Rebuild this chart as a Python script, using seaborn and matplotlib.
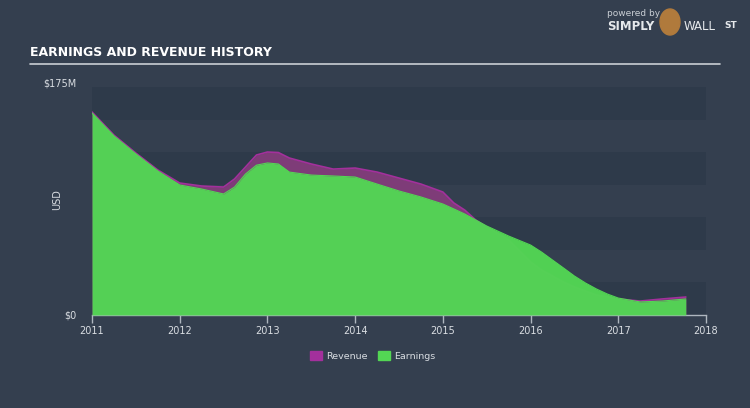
import matplotlib
matplotlib.use("Agg")
import matplotlib.pyplot as plt
import matplotlib.patches as mpatches
from matplotlib.transforms import ScaledTranslation
import seaborn as sns
import pandas as pd

# ---- data ($M) ----
years = [2011.00, 2011.25, 2011.50, 2011.75, 2012.00, 2012.25, 2012.50, 2012.625,
         2012.75, 2012.875, 2013.00, 2013.125, 2013.25, 2013.50, 2013.75, 2014.00,
         2014.25, 2014.50, 2014.75, 2015.00, 2015.125, 2015.25, 2015.375, 2015.50,
         2015.75, 2016.00, 2016.125, 2016.25, 2016.375, 2016.50, 2016.625, 2016.75,
         2016.875, 2017.00, 2017.25, 2017.50, 2017.77]
revenue = [155.8, 138.1, 124.3, 111.3, 101.3, 99.0, 98.2, 104.4,
           113.6, 122.8, 125.1, 124.7, 120.5, 115.9, 112.0, 112.8,
           109.7, 105.1, 100.5, 94.4, 86.0, 80.5, 72.9, 67.5,
           57.6, 40.7, 34.5, 29.9, 25.3, 21.5, 18.4, 15.3,
           13.8, 12.3, 10.7, 12.3, 13.8]
earnings = [155.0, 137.4, 123.6, 110.5, 99.8, 96.7, 92.9, 98.2,
            108.2, 115.0, 116.7, 115.9, 109.7, 107.4, 106.7, 105.9,
            100.5, 95.2, 90.6, 85.2, 81.4, 77.5, 72.9, 68.3,
            60.6, 53.7, 48.3, 42.2, 36.1, 29.9, 24.6, 20.0,
            16.1, 13.0, 10.0, 10.7, 12.3]
x_ticks = [2011, 2012, 2013, 2014, 2015, 2016, 2017, 2018]
y_ticks = [0, 175]
y_tick_labels = ["$0", "$175M"]
series_names = ["Revenue", "Earnings"]

BG = "#343f4f"
DARK_BAND = "#2e3a4a"
GREEN = "#53d654"
MAGENTA = "#a3309c"
REV_FILL = "#7e3c78"
TXT = "#d9dde2"

df = pd.DataFrame({"year": years, "Revenue": revenue, "Earnings": earnings})

sns.set_theme(style="dark")
plt.rcParams["font.family"] = ["DejaVu Sans"]

fig = plt.figure(figsize=(7.5, 4.08), dpi=100, facecolor=BG)
ax = fig.add_axes([92 / 750, 1 - 315 / 408, (706 - 92) / 750, (315 - 87) / 408])
ax.set_facecolor(BG)

# horizontal bands (25M each)
for i in range(7):
    if i % 2 == 0:
        ax.axhspan(175 - 25 * (i + 1), 175 - 25 * i, color=DARK_BAND, lw=0, zorder=0)

ax.fill_between(df["year"], 0, df["Revenue"], color=REV_FILL, lw=0, zorder=1)
sns.lineplot(data=df, x="year", y="Revenue", color=MAGENTA, lw=1.2, ax=ax, zorder=2)
ax.fill_between(df["year"], 0, df["Earnings"], color=GREEN, alpha=0.97, lw=0, zorder=3)
sns.lineplot(data=df, x="year", y="Earnings", color=GREEN, lw=0.8, ax=ax, zorder=4)

ax.set_xlim(2011, 2018)
ax.set_ylim(0, 175)
ax.set_xlabel("")
ax.set_ylabel("")
ax.set_xticks(x_ticks)
ax.set_xticklabels([str(t) for t in x_ticks], color=TXT, fontsize=7)
ax.set_yticks(y_ticks)
ax.set_yticklabels(y_tick_labels, color=TXT, fontsize=7)
ax.tick_params(axis="x", length=6, width=1, color="#aeb6bf", pad=2, direction="out", bottom=True)
ax.tick_params(axis="y", length=0, pad=11)
for lab in ax.get_yticklabels():
    lab.set_verticalalignment("center")
top_lab = ax.get_yticklabels()[1]
top_lab.set_transform(top_lab.get_transform() + ScaledTranslation(0, 3 / 100, fig.dpi_scale_trans))
for s in ["top", "right", "left"]:
    ax.spines[s].set_visible(False)
ax.spines["bottom"].set_color("#aeb6bf")
ax.spines["bottom"].set_linewidth(1)
ax.grid(False)

fig.text(57 / 750, 1 - 200 / 408, "USD", rotation=90, color=TXT, fontsize=7,
         ha="center", va="center")

# title + rule
fig.text(30 / 750, 1 - 53 / 408, "EARNINGS AND REVENUE HISTORY", color="white",
         fontsize=9, fontweight="bold", ha="left", va="center")
fig.add_artist(plt.Line2D([30 / 750, 720 / 750], [1 - 64 / 408, 1 - 64 / 408],
                          color="#c9ced4", lw=1.2))

# logo text
fig.text(607 / 750, 1 - 14 / 408, "powered by", color="#c9ced4", fontsize=6.5, ha="left", va="center")
fig.text(607 / 750, 1 - 27 / 408, "SIMPLY", color="#e6e9ec", fontsize=8.5, fontweight="bold",
         ha="left", va="center")
fig.add_artist(mpatches.Ellipse((670 / 750, 1 - 22 / 408), 20 / 750, 26 / 408,
                                transform=fig.transFigure, color="#b07a3c"))
fig.text(684 / 750, 1 - 27 / 408, "WALL", color="#e6e9ec", fontsize=8.5, ha="left", va="center")
fig.text(724 / 750, 1 - 25 / 408, "ST", color="#e6e9ec", fontsize=6.5, fontweight="bold",
         ha="left", va="center")

# legend
handles = [mpatches.Patch(color=MAGENTA, label=series_names[0]),
           mpatches.Patch(color=GREEN, label=series_names[1])]
leg = fig.legend(handles=handles, loc="center", bbox_to_anchor=(373 / 750, 1 - 356 / 408),
                 ncol=2, frameon=False, fontsize=6.8, handlelength=1.2, handleheight=1.1,
                 columnspacing=1.1, handletextpad=0.5)
for t in leg.get_texts():
    t.set_color(TXT)

fig.savefig("out.png", dpi=100, facecolor=BG)
